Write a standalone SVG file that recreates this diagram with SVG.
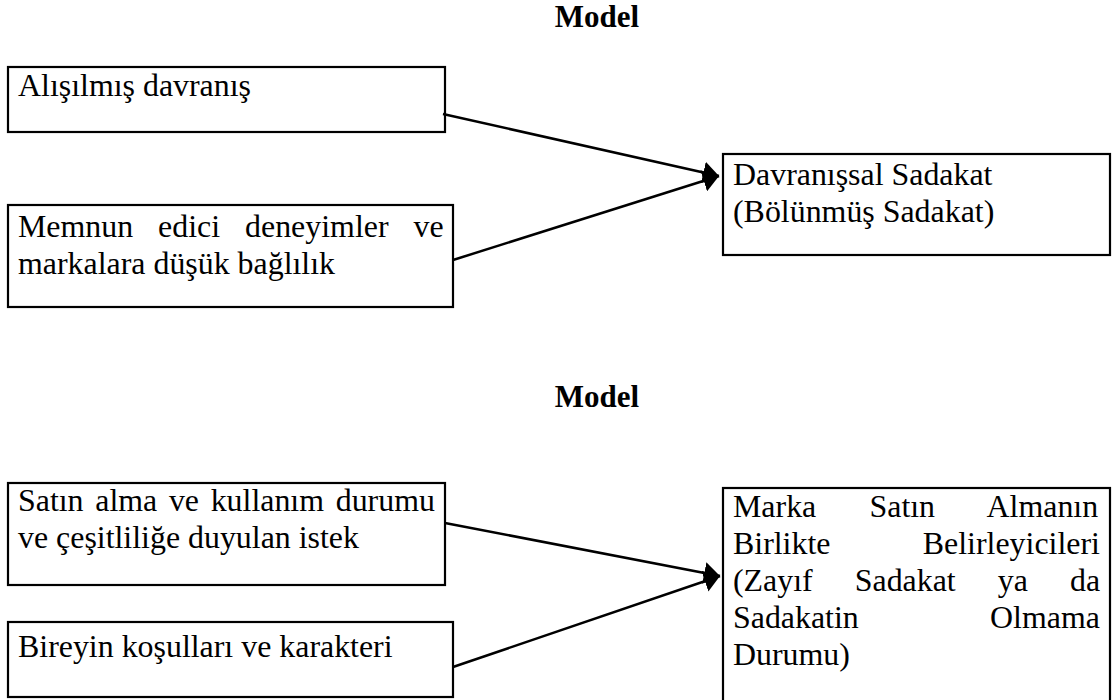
<svg xmlns="http://www.w3.org/2000/svg" width="1112" height="700" viewBox="0 0 1112 700">
<defs>
<style>
.box{fill:#fff;stroke:#000;stroke-width:2.2}
.t{font-family:"Liberation Serif","Times New Roman",serif;font-size:31.9px;fill:#000}
.title{font-family:"Liberation Serif","Times New Roman",serif;font-size:31px;font-weight:bold;fill:#000}
.conn{stroke:#000;stroke-width:2.5;fill:none;marker-end:url(#arr)}
</style>
<marker id="arr" viewBox="0 0 16 22" refX="16" refY="11" markerWidth="16" markerHeight="22" markerUnits="userSpaceOnUse" orient="auto">
<path d="M0,0 L16,11 L0,22 Z" fill="#000"/>
</marker>
</defs>
<rect width="1112" height="700" fill="#fff"/>
<g id="title1"><text class="title" x="597" y="27" text-anchor="middle">Model</text></g>
<g id="title2"><text class="title" x="597" y="407" text-anchor="middle">Model</text></g>

<g id="n1">
<rect class="box" x="8" y="67" width="437" height="65"/>
<text class="t" x="18" y="96">Alışılmış davranış</text>
</g>
<g id="n2">
<rect class="box" x="8" y="205" width="445" height="102"/>
<text class="t" x="18" y="236.5" word-spacing="17">Memnun edici deneyimler ve</text>
<text class="t" x="18" y="273.5">markalara düşük bağlılık</text>
</g>
<g id="n3">
<rect class="box" x="723" y="154" width="387" height="101"/>
<text class="t" x="733" y="185">Davranışsal Sadakat</text>
<text class="t" x="733" y="222">(Bölünmüş Sadakat)</text>
</g>
<g id="n4">
<rect class="box" x="8" y="483" width="437" height="102"/>
<text class="t" x="18" y="511" word-spacing="3.7">Satın alma ve kullanım durumu</text>
<text class="t" x="18" y="548">ve çeşitliliğe duyulan istek</text>
</g>
<g id="n5">
<rect class="box" x="8" y="622" width="445" height="75"/>
<text class="t" x="18" y="657">Bireyin koşulları ve karakteri</text>
</g>
<g id="n6">
<rect class="box" x="723" y="488" width="387" height="240"/>
<text class="t" x="733" y="517" word-spacing="45.3">Marka Satın Almanın</text>
<text class="t" x="733" y="554" word-spacing="84.4">Birlikte Belirleyicileri</text>
<text class="t" x="733" y="591" word-spacing="34.1">(Zayıf Sadakat ya da</text>
<text class="t" x="733" y="628" word-spacing="123.3">Sadakatin Olmama</text>
<text class="t" x="733" y="665">Durumu)</text>
</g>

<g id="connectors">
<line class="conn" x1="443" y1="114" x2="719" y2="176"/>
<line class="conn" x1="453" y1="260" x2="719" y2="176"/>
<line class="conn" x1="445" y1="523" x2="720" y2="576"/>
<line class="conn" x1="453" y1="667" x2="720" y2="576"/>
</g>
</svg>
